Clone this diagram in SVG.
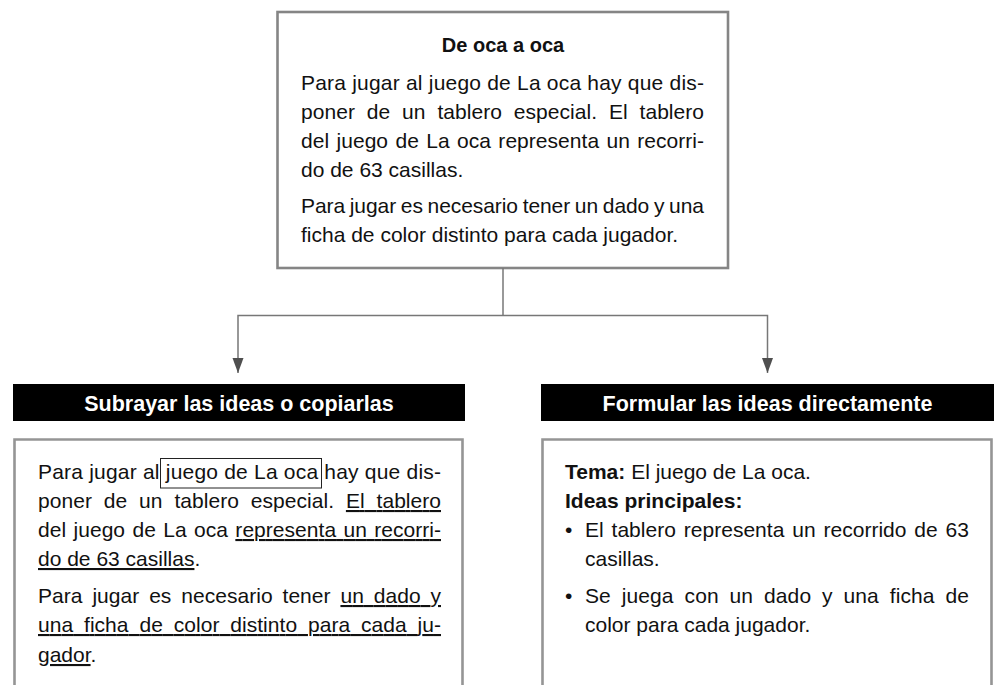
<svg xmlns="http://www.w3.org/2000/svg" width="1002" height="685" viewBox="0 0 1002 685">
  <style>
    .t { font-family: "Liberation Sans", Arial, sans-serif; font-size: 21px; fill: #111; }
    .b { font-weight: bold; }
    .h { font-family: "Liberation Sans", Arial, sans-serif; font-size: 21.5px; font-weight: bold; fill: #fff; text-anchor: middle; }
    .u { text-decoration: underline; }
    .box { fill: #fff; stroke: #858585; stroke-width: 2.6; }
    .cbox { fill: none; stroke: #959595; stroke-width: 2.6; }
    .conn { fill: none; stroke: #777; stroke-width: 1.5; }
  </style>
  <defs>
    <marker id="arr" markerUnits="userSpaceOnUse" markerWidth="16" markerHeight="12" refX="15" refY="6" orient="auto-start-reverse" viewBox="0 0 16 12">
      <path d="M0 0.5 L15 6 L0 11.5 Z" fill="#4f4f4f"/>
    </marker>
  </defs>
  <rect width="1002" height="685" fill="#fff"/>

  <g id="top">
    <rect class="box" x="277.5" y="12" width="450.5" height="256"/>
    <text class="t b" x="503" y="52" text-anchor="middle" style="font-size:20px">De oca a oca</text>
    <text class="t" x="301" y="90" textLength="403" lengthAdjust="spacing">Para jugar al juego de La oca hay que dis-</text>
    <text class="t" x="301" y="119" textLength="403" lengthAdjust="spacing" style="word-spacing:6px">poner de un tablero especial. El tablero</text>
    <text class="t" x="301" y="148" textLength="403" lengthAdjust="spacing" style="word-spacing:1.5px">del juego de La oca representa un recorri-</text>
    <text class="t" x="301" y="177">do de 63 casillas.</text>
    <text class="t" x="301" y="213" textLength="403" lengthAdjust="spacing" style="word-spacing:-1px">Para jugar es necesario tener un dado y una</text>
    <text class="t" x="301" y="242">ficha de color distinto para cada jugador.</text>
  </g>

  <g id="connectors">
    <path class="conn" d="M503 268 V315.5"/>
    <path class="conn" d="M238 373 V315.5 H767.5 V373" marker-start="url(#arr)" marker-end="url(#arr)"/>
  </g>

  <g id="left">
    <rect x="13" y="384" width="452" height="37" fill="#000"/>
    <text class="h" x="239" y="411">Subrayar las ideas o copiarlas</text>
    <path class="cbox" d="M14.5 685 V439.5 H462.5 V685"/>
    <rect x="160.5" y="458.5" width="161" height="29.5" fill="none" stroke="#222" stroke-width="1"/>
    <text class="t" x="38" y="479" textLength="403" lengthAdjust="spacing">Para jugar al juego de La oca hay que dis-</text>
    <text class="t" x="38" y="508" textLength="403" lengthAdjust="spacing" style="word-spacing:6px">poner de un tablero especial. <tspan class="u">El tablero</tspan></text>
    <text class="t" x="38" y="537" textLength="403" lengthAdjust="spacing" style="word-spacing:1.5px">del juego de La oca <tspan class="u">representa un recorri-</tspan></text>
    <text class="t" x="38" y="566"><tspan class="u">do de 63 casillas</tspan>.</text>
    <text class="t" x="38" y="603" textLength="403" lengthAdjust="spacing" style="word-spacing:4px">Para jugar es necesario tener <tspan class="u">un dado y</tspan></text>
    <text class="t" x="38" y="632" textLength="403" lengthAdjust="spacing" style="word-spacing:5px"><tspan class="u">una ficha de color distinto para cada ju-</tspan></text>
    <text class="t" x="38" y="662"><tspan class="u">gador</tspan>.</text>
  </g>

  <g id="right">
    <rect x="541" y="384" width="453" height="37" fill="#000"/>
    <text class="h" x="767.5" y="411">Formular las ideas directamente</text>
    <path class="cbox" d="M542.5 685 V439.5 H991.5 V685"/>
    <text class="t" x="565" y="479"><tspan class="b">Tema:</tspan> El juego de La oca.</text>
    <text class="t b" x="565" y="508">Ideas principales:</text>
    <text class="t" x="565" y="537">•</text>
    <text class="t" x="585" y="537" textLength="384" lengthAdjust="spacing" style="word-spacing:2px">El tablero representa un recorrido de 63</text>
    <text class="t" x="585" y="566">casillas.</text>
    <text class="t" x="565" y="603">•</text>
    <text class="t" x="585" y="603" textLength="384" lengthAdjust="spacing" style="word-spacing:5px">Se juega con un dado y una ficha de</text>
    <text class="t" x="585" y="632">color para cada jugador.</text>
  </g>
</svg>
